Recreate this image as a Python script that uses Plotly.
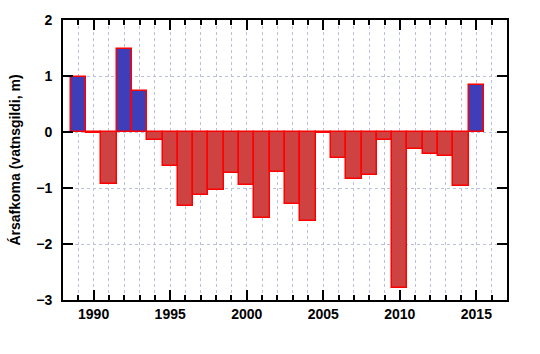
import plotly.graph_objects as go

years = list(range(1989, 2016))
balance = [0.99, -0.02, -0.93, 1.48, 0.73, -0.15, -0.61, -1.33, -1.12, -1.03,
           -0.74, -0.95, -1.53, -0.72, -1.28, -1.59, -0.02, -0.47, -0.84, -0.77,
           -0.15, -2.78, -0.31, -0.40, -0.42, -0.97, 0.84]
y_title = "Ársafkoma (vatnsgildi, m)"

BLUE = "#3E3EB8"
RED = "#CF4242"
colors = [BLUE if v > 0 else RED for v in balance]

fig = go.Figure()
fig.add_trace(go.Bar(
    x=years, y=balance, width=1.0,
    marker=dict(color=colors, line=dict(color="#FF0000", width=1.5)),
    showlegend=False,
))

font = dict(family="Liberation Sans, Arial, sans-serif", size=14, color="black")
grid = "#BCC0DE"
fig.update_layout(
    width=540, height=354,
    margin=dict(l=63, r=33, t=16, b=54),
    plot_bgcolor="white", paper_bgcolor="white",
    bargap=0,
    font=font,
    xaxis=dict(
        range=[1988, 2017], tick0=1990, dtick=5,
        ticks="inside", ticklen=10, tickwidth=1.5, tickcolor="black",
        showline=True, linecolor="black", linewidth=2, mirror="allticks",
        showgrid=True, gridcolor=grid, griddash="dot", gridwidth=1,
        tickfont=dict(family="Liberation Sans, Arial, sans-serif", size=14, color="black", weight="bold"),
        minor=dict(dtick=1, tick0=1989, ticks="inside", ticklen=5, tickwidth=1.5, tickcolor="black",
                   showgrid=True, gridcolor=grid, griddash="dot", gridwidth=1),
        zeroline=False,
    ),
    yaxis=dict(
        range=[-3, 2], dtick=1,
        ticks="inside", ticklen=10, tickwidth=1.5, tickcolor="black",
        showline=True, linecolor="black", linewidth=2, mirror="allticks",
        showgrid=True, gridcolor=grid, griddash="dot", gridwidth=1,
        zeroline=False,
        tickfont=dict(family="Liberation Sans, Arial, sans-serif", size=14, color="black", weight="bold"),
        ticklabelstandoff=6,
        title=dict(text=y_title, standoff=12,
                   font=dict(family="Liberation Sans, Arial, sans-serif", size=14, color="black", weight="bold")),
    ),
)

fig.write_html("out.html")
